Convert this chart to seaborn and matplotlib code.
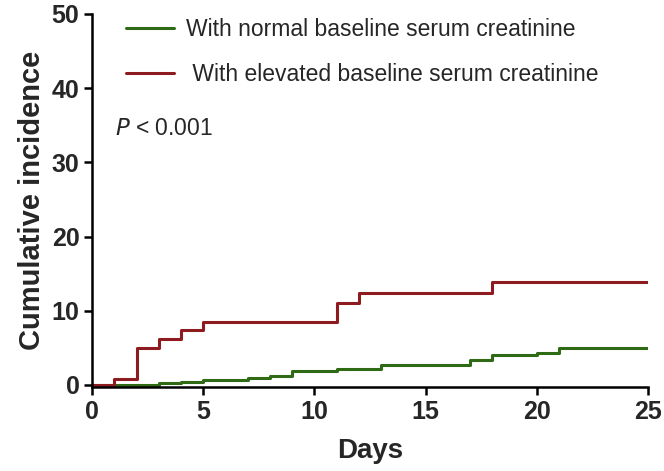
import pandas as pd
import matplotlib.pyplot as plt
import seaborn as sns

# step data
normal_days = [0, 3, 4, 5, 7, 8, 9, 11, 13, 17, 18, 20, 21, 25]
normal_inc = [0, 0.2, 0.4, 0.6, 0.9, 1.2, 1.9, 2.15, 2.7, 3.4, 4.0, 4.3, 5.0, 5.0]

elevated_days = [0, 1, 2, 3, 4, 5, 11, 12, 18, 25]
elevated_inc = [0, 0.8, 5.0, 6.2, 7.4, 8.5, 11.0, 12.4, 13.9, 13.9]

labels = ["With normal baseline serum creatinine",
          " With elevated baseline serum creatinine"]
colors = ["#2f6a14", "#8e1b1f"]

df = pd.concat([
    pd.DataFrame({"Days": normal_days, "inc": normal_inc, "group": labels[0]}),
    pd.DataFrame({"Days": elevated_days, "inc": elevated_inc, "group": labels[1]}),
])

sns.set_style("ticks")
plt.rcParams["font.family"] = ["Liberation Sans", "DejaVu Sans"]

fig, ax = plt.subplots(figsize=(6.64, 4.71), dpi=100)
fig.subplots_adjust(left=0.1386, right=0.976, top=0.9703, bottom=0.178)

sns.lineplot(
    data=df, x="Days", y="inc", hue="group",
    palette=colors, estimator=None, drawstyle="steps-post",
    linewidth=2.2, ax=ax
)

ax.set_xlim(0, 25)
ax.set_ylim(-0.3, 50)
ax.set_xticks([0, 5, 10, 15, 20, 25])
ax.set_yticks([0, 10, 20, 30, 40, 50])

for s in ["top", "right"]:
    ax.spines[s].set_visible(False)
for s in ["left", "bottom"]:
    ax.spines[s].set_linewidth(1.8)
    ax.spines[s].set_color("black")

ax.tick_params(axis="both", length=6, width=1.8, labelsize=18, color="black", pad=3)
for lab in ax.get_xticklabels() + ax.get_yticklabels():
    lab.set_fontweight("bold")

ax.set_xlabel("Days", fontsize=20, fontweight="bold", labelpad=10)
ax.set_ylabel("Cumulative incidence", fontsize=21, fontweight="bold", labelpad=4)

leg = ax.legend(
    loc="upper left", bbox_to_anchor=(0.045, 1.015), frameon=False,
    fontsize=16.5, handlelength=2.1, handletextpad=0.5, labelspacing=1.0,
    borderaxespad=0
)
for line in leg.get_lines():
    line.set_linewidth(2.2)

ax.text(0.042, 0.694, "$P$ < 0.001", transform=ax.transAxes,
        fontsize=16.5, va="center", ha="left")

fig.savefig("out.png", dpi=100)
